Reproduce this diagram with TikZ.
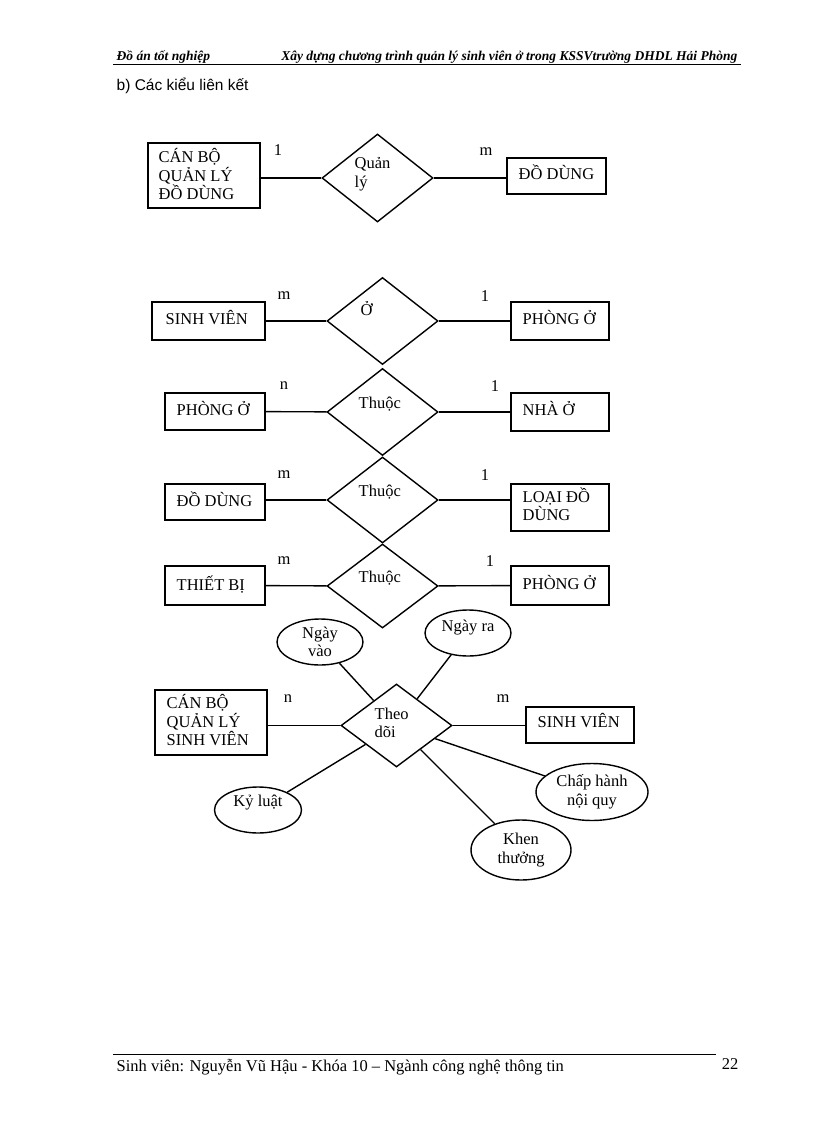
\documentclass[tikz,border=0pt]{standalone}
\usepackage{fontspec}
\setmainfont{Liberation Serif}
\newfontfamily\hdsans{Liberation Sans}
\usetikzlibrary{shapes.geometric}
\begin{document}
\begin{tikzpicture}[x=1pt,y=-1pt,line width=1.4pt,
  every node/.style={font=\fontsize{16.5}{18.5}\selectfont},
  ent/.style={draw,rectangle,inner sep=0pt},
  rel/.style={draw,diamond,minimum width=111pt,minimum height=88pt,inner sep=0pt,fill=white},
  attr/.style={draw,ellipse,inner sep=0pt,fill=white},
  txt/.style={align=left,inner sep=0pt,anchor=north west},
  card/.style={inner sep=0pt}]
\useasboundingbox (0,0) rectangle (816,1123);
% header
\node[anchor=base west,inner sep=0pt,font=\fontsize{13.5}{15}\selectfont\bfseries\itshape] (h1) at (116,61) {Đồ án tốt nghiệp};
\node[anchor=base east,inner sep=0pt,font=\fontsize{13.5}{15}\selectfont\bfseries\itshape] (h2) at (738,61) {Xây dựng chương trình quản lý sinh viên ở trong KSSVtrường DHDL Hải Phòng};
\coordinate (hl1) at (113,65); \coordinate (hl2) at (741,65);
\draw[line width=1pt] (hl1) -- (hl2);
\node[anchor=base west,inner sep=0pt,font=\fontsize{15.5}{17}\selectfont\hdsans] (sub) at (116,91) {b) Các kiểu liên kết};
% footer
\coordinate (fl1) at (113,1054); \coordinate (fl2) at (716,1054);
\draw[line width=1pt] (fl1) -- (fl2);
\node[anchor=base west,inner sep=0pt] (ft) at (116,1071) {Sinh viên: Nguyễn Vũ Hậu - Khóa 10 – Ngành công nghệ thông tin};
\node[anchor=base east,inner sep=0pt] (pg) at (739,1069) {22};

% diagram 1
\node[ent,minimum width=112pt,minimum height=65pt] (e1a) at (204,175.5) {};
\node[txt] at (158,148) {CÁN BỘ\\QUẢN LÝ\\ĐỒ DÙNG};
\node[rel,minimum height=88pt] (r1) at (377.5,178) {};
\node[txt] at (354,157) {Quản\\lý};
\node[ent,minimum width=99pt,minimum height=36pt] (e1b) at (556.5,176) {};
\node[txt] at (518,164) {ĐỒ DÙNG};
\draw (e1a.east |- r1) -- (r1.west); \draw (r1.east) -- (e1b.west |- r1);
\node[card] at (278,150) {1}; \node[card] at (486,152) {m};

% diagram 2
\node[ent,minimum width=113pt,minimum height=38pt] (e2a) at (208.5,321) {};
\node[txt] at (165,310) {SINH VIÊN};
\node[rel,minimum height=87pt] (r2) at (382.5,321) {};
\node[txt] at (360,301) {Ở};
\node[ent,minimum width=98pt,minimum height=38pt] (e2b) at (560,321) {};
\node[txt] at (522,310) {PHÒNG Ở};
\draw (e2a) -- (r2); \draw (r2) -- (e2b);
\node[card] at (284,296) {m}; \node[card] at (485,296) {1};

% diagram 3
\node[ent,minimum width=100pt,minimum height=37pt] (e3a) at (215,411.5) {};
\node[txt] at (176,401) {PHÒNG Ở};
\node[rel,minimum height=87pt] (r3) at (382.5,412) {};
\node[txt] at (358,396) {Thuộc};
\node[ent,minimum width=98pt,minimum height=38pt] (e3b) at (560,412) {};
\node[txt] at (522,401) {NHÀ Ở};
\draw (e3a) -- (r3); \draw (r3) -- (e3b);
\node[card] at (284,386) {n}; \node[card] at (495,386) {1};

% diagram 4
\node[ent,minimum width=100pt,minimum height=36pt] (e4a) at (215,502) {};
\node[txt] at (176,491) {ĐỒ DÙNG};
\node[rel,minimum height=86pt] (r4) at (382.5,500) {};
\node[txt] at (358,484) {Thuộc};
\node[ent,minimum width=98pt,minimum height=47pt] (e4b) at (560,507.5) {};
\node[txt] at (522,487) {LOẠI ĐỒ\\DÙNG};
\draw (e4a.east |- r4) -- (r4.west); \draw (r4.east) -- (e4b.west |- r4);
\node[card] at (284,475) {m}; \node[card] at (485,475) {1};

% diagram 5
\node[ent,minimum width=100pt,minimum height=39pt] (e5a) at (215,585.5) {};
\node[txt] at (176,575) {THIẾT BỊ};
\node[rel,minimum height=84pt] (r5) at (382.5,586) {};
\node[txt] at (358,570) {Thuộc};
\node[ent,minimum width=98pt,minimum height=39pt] (e5b) at (560,585.5) {};
\node[txt] at (522,575) {PHÒNG Ở};
\draw (e5a) -- (r5); \draw (r5) -- (e5b);
\node[card] at (284,561) {m}; \node[card] at (490,561) {1};

% diagram 6
\node[ent,minimum width=112pt,minimum height=65pt] (e6a) at (211,722.5) {};
\node[txt] at (166,694) {CÁN BỘ\\QUẢN LÝ\\SINH VIÊN};
\node[ent,minimum width=108pt,minimum height=36pt] (e6b) at (580,725) {};
\node[txt] at (537,713) {SINH VIÊN};
\node[attr,minimum width=86pt,minimum height=46pt,align=center] (a1) at (320,642) {Ngày\\vào};
\node[attr,minimum width=86pt,minimum height=46pt] (a2) at (468,633) {};
\node[inner sep=0pt] at (468,628) {Ngày ra};
\node[attr,minimum width=87pt,minimum height=46pt] (a3) at (258,810) {};
\node[inner sep=0pt] at (258,803) {Kỷ luật};
\node[attr,minimum width=112pt,minimum height=57pt,align=center] (a4) at (592,792) {Chấp hành\\nội quy};
\node[attr,minimum width=100pt,minimum height=60pt,align=center] (a5) at (521,850) {Khen\\thưởng};
\node[rel,draw=none,fill=none,minimum width=111pt,minimum height=83pt] (r6) at (396.5,725.5) {};
\draw (a1) -- (r6); \draw (a2) -- (r6); \draw (a3) -- (r6); \draw (a4) -- (r6); \draw (a5) -- (r6);
\draw (e6a.east |- r6) -- (r6.west); \draw (r6.east) -- (e6b.west |- r6);
\node[rel,minimum width=111pt,minimum height=83pt] at (396.5,725.5) {};
\node[txt] at (374,707) {Theo\\dõi};
\node[card] at (288,699) {n}; \node[card] at (503,699) {m};
\end{tikzpicture}
\end{document}
